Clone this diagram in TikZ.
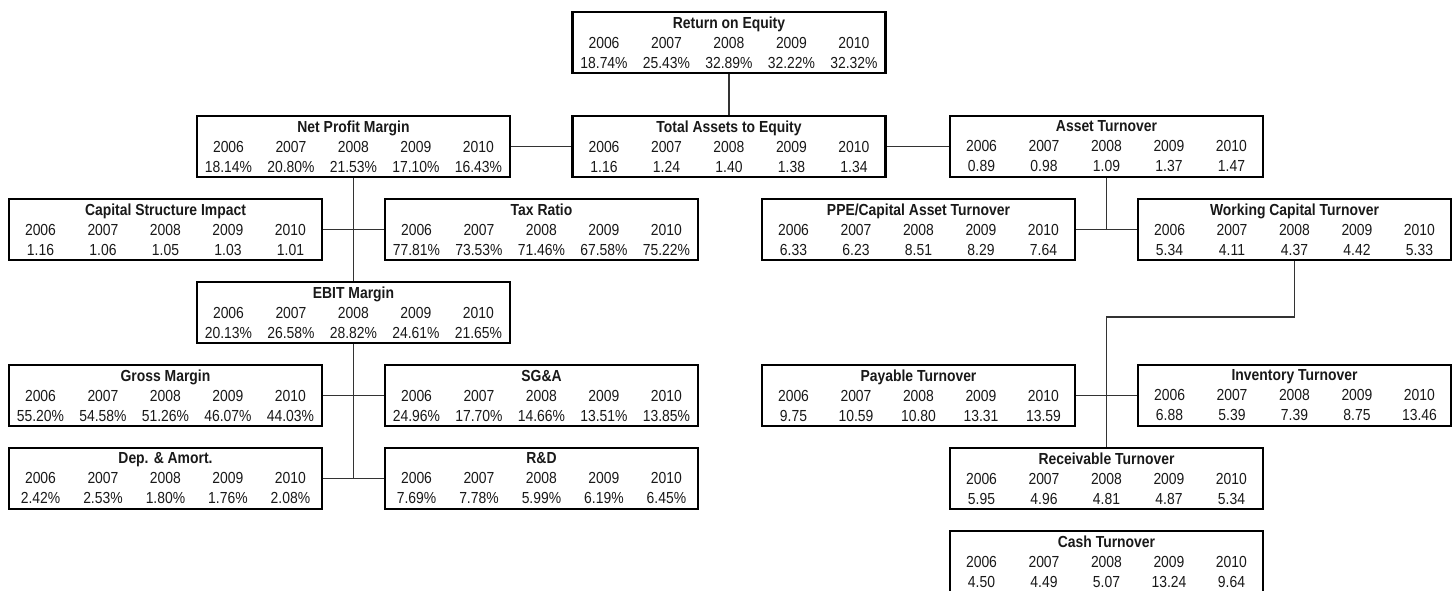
\documentclass[tikz,border=0pt]{standalone}
\usepackage{fontspec}
\setmainfont[FakeStretch=0.87]{Liberation Sans}
\usepackage{tikz}
\usetikzlibrary{calc}
\newcommand{\yc}[1]{\makebox[62.5pt]{#1}}
\newcommand{\yrs}{\yc{2006}\yc{2007}\yc{2008}\yc{2009}\yc{2010}}
\newcommand{\vals}[5]{\yc{#1}\yc{#2}\yc{#3}\yc{#4}\yc{#5}}

\begin{document}
\begin{tikzpicture}[x=1pt,y=-1pt,
  ratiobox/.style={draw=black,line width=2.7pt,fill=white,inner sep=0pt,
    minimum width=313pt,minimum height=61pt,align=center,text=black!90,
    font=\fontsize{16}{20}\selectfont},
  link/.style={draw=black!80,line width=1.3pt}]

\useasboundingbox (0,0) rectangle (1455,591);

\node[ratiobox] (roe) at (729,42.5) {\textbf{Return on Equity}\\\yrs\\\vals{18.74\%}{25.43\%}{32.89\%}{32.22\%}{32.32\%}};

\node[ratiobox] (npm) at (353.5,146.5) {\textbf{Net Profit Margin}\\\yrs\\\vals{18.14\%}{20.80\%}{21.53\%}{17.10\%}{16.43\%}};
\node[ratiobox] (tae) at (729,146.5) {\textbf{Total Assets to Equity}\\\yrs\\\vals{1.16}{1.24}{1.40}{1.38}{1.34}};
\node[ratiobox] (at) at (1106.5,146.5) {\textbf{Asset Turnover}\\\yrs\\\vals{0.89}{0.98}{1.09}{1.37}{1.47}};

\node[ratiobox] (csi) at (165.5,229.5) {\textbf{Capital Structure Impact}\\\yrs\\\vals{1.16}{1.06}{1.05}{1.03}{1.01}};
\node[ratiobox] (tax) at (541.5,229.5) {\textbf{Tax Ratio}\\\yrs\\\vals{77.81\%}{73.53\%}{71.46\%}{67.58\%}{75.22\%}};
\node[ratiobox] (ppe) at (918.5,229.5) {\textbf{PPE/Capital Asset Turnover}\\\yrs\\\vals{6.33}{6.23}{8.51}{8.29}{7.64}};
\node[ratiobox] (wct) at (1294.5,229.5) {\textbf{Working Capital Turnover}\\\yrs\\\vals{5.34}{4.11}{4.37}{4.42}{5.33}};

\node[ratiobox] (ebit) at (353.5,312.5) {\textbf{EBIT Margin}\\\yrs\\\vals{20.13\%}{26.58\%}{28.82\%}{24.61\%}{21.65\%}};

\node[ratiobox] (gm) at (165.5,395.5) {\textbf{Gross Margin}\\\yrs\\\vals{55.20\%}{54.58\%}{51.26\%}{46.07\%}{44.03\%}};
\node[ratiobox] (sga) at (541.5,395.5) {\textbf{SG\&A}\\\yrs\\\vals{24.96\%}{17.70\%}{14.66\%}{13.51\%}{13.85\%}};
\node[ratiobox] (pay) at (918.5,395.5) {\textbf{Payable Turnover}\\\yrs\\\vals{9.75}{10.59}{10.80}{13.31}{13.59}};
\node[ratiobox] (inv) at (1294.5,395.5) {\textbf{Inventory Turnover}\\\yrs\\\vals{6.88}{5.39}{7.39}{8.75}{13.46}};

\node[ratiobox] (dep) at (165.5,478.5) {\textbf{Dep. \& Amort.}\\\yrs\\\vals{2.42\%}{2.53\%}{1.80\%}{1.76\%}{2.08\%}};
\node[ratiobox] (rd) at (541.5,478.5) {\textbf{R\&D}\\\yrs\\\vals{7.69\%}{7.78\%}{5.99\%}{6.19\%}{6.45\%}};
\node[ratiobox] (rec) at (1106.5,478.5) {\textbf{Receivable Turnover}\\\yrs\\\vals{5.95}{4.96}{4.81}{4.87}{5.34}};

\node[ratiobox] (cash) at (1106.5,561.5) {\textbf{Cash Turnover}\\\yrs\\\vals{4.50}{4.49}{5.07}{13.24}{9.64}};

\coordinate (jn) at (1106.5,317);

\path[link]
	(roe.south) edge (tae.north)
	(npm.east) edge (tae.west) (tae.east) edge (at.west)
	(npm.south) edge (ebit.north) (csi.east) edge (tax.west)
	(ebit.south) edge (ebit.south |- dep.east)
	(gm.east) edge (sga.west) (dep.east) edge (rd.west)
	(at.south) edge (at.south |- ppe.east) (ppe.east) edge (wct.west)
	(pay.east) edge (inv.west);
\draw[link] (wct.south) |- (jn) -- (rec.north);

\end{tikzpicture}
\end{document}
